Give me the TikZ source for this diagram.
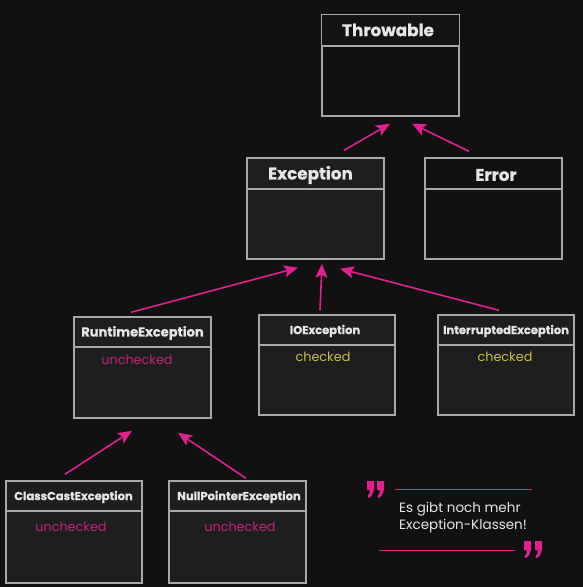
\documentclass[tikz,border=0pt]{standalone}
\usepackage{fontspec}
\setmainfont{Poppins}[BoldFeatures={FakeBold=0.6}]
\usetikzlibrary{arrows.meta,calc}
\definecolor{bg}{HTML}{111111}
\definecolor{boxline}{HTML}{A8A8A8}
\definecolor{hdA}{HTML}{1E1E1E}
\definecolor{hdB}{HTML}{131313}
\definecolor{mag}{HTML}{E0208F}
\definecolor{unch}{HTML}{C0237E}
\definecolor{chk}{HTML}{C8C040}
\definecolor{txt}{HTML}{E6E6E6}
\tikzset{
  box/.style={draw=boxline, line width=1.4pt, rectangle, inner sep=0pt},
  bigtitle/.style={text=txt, font=\fontsize{16.8}{19}\selectfont\bfseries, inner sep=0pt},
  smalltitle/.style={text=txt, font=\fontsize{11.5}{13}\selectfont\bfseries, inner sep=0pt},
  unchecked/.style={text=unch, font=\fontsize{12.8}{15}\selectfont, inner sep=0pt},
  checked/.style={text=chk, font=\fontsize{12.8}{15}\selectfont, inner sep=0pt},
  arr/.style={draw=mag, line width=1.6pt, -{Stealth[length=14pt,width=12pt,inset=3pt]}},
  quoteline/.style={draw=mag, line width=1pt},
  qmark/.style={fill=mag, draw=none},
  note/.style={text=txt, font=\fontsize{13.5}{17}\selectfont, align=left, inner sep=0pt, anchor=north west}
}
\newcommand{\qm}[2]{\fill[qmark] (#1,#2) -- ++(7,0) -- ++(0,9) -- ++(-2,5) -- ++(-3,3) -- ++(-1.5,-1.5) -- ++(2,-3.5) -- ++(0,-3) -- ++(-2.5,0) -- cycle;}
\begin{document}
\begin{tikzpicture}[x=1pt,y=-1pt]
\fill[bg] (0,0) rectangle (583,587);
\useasboundingbox (0,0) rectangle (583,587);
% Throwable
\node[box, fill=bg, minimum width=137pt, minimum height=101pt] (thr) at (390.5,65.5) {};
\fill[hdB] ($(thr.north west)+(0.7pt,-0.7pt)$) rectangle ($(thr.north east |- 0,46)+(-0.7pt,0)$);
\draw[boxline, line width=1.4pt] (thr.west |- 0,46) -- (thr.east |- 0,46);
\node[bigtitle] (thrT) at (388,30) {Throwable};
% Exception
\node[box, fill=hdA, minimum width=137pt, minimum height=101pt] (exc) at (315.5,208.5) {};
\draw[boxline, line width=1.4pt] (exc.west |- 0,189) -- (exc.east |- 0,189);
\node[bigtitle] (excT) at (310.5,175) {Exception};
% Error
\node[box, fill=bg, minimum width=137pt, minimum height=101pt] (err) at (493.5,208.5) {};
\draw[boxline, line width=1.4pt] (err.west |- 0,189) -- (err.east |- 0,189);
\node[bigtitle] (errT) at (496,175) {Error};
% RuntimeException
\node[box, fill=hdA, minimum width=137pt, minimum height=101pt] (rt) at (142.5,367.5) {};
\draw[boxline, line width=1.4pt] (rt.west |- 0,347) -- (rt.east |- 0,347);
\node[smalltitle, font=\fontsize{13}{15}\selectfont\bfseries] (rtT) at (142.5,333) {RuntimeException};
\node[unchecked] (rtU) at (137,360) {unchecked};
% IOException
\node[box, fill=hdA, minimum width=136pt, minimum height=100pt] (io) at (327,365) {};
\draw[boxline, line width=1.4pt] (io.west |- 0,345) -- (io.east |- 0,345);
\node[smalltitle] (ioT) at (325,331) {IOException};
\node[checked] (ioC) at (323,357) {checked};
% InterruptedException
\node[box, fill=hdA, minimum width=136pt, minimum height=100pt] (ie) at (506,365) {};
\draw[boxline, line width=1.4pt] (ie.west |- 0,345) -- (ie.east |- 0,345);
\node[smalltitle] (ieT) at (506,331) {InterruptedException};
\node[checked] (ieC) at (505,357) {checked};
% ClassCastException
\node[box, fill=hdA, minimum width=136pt, minimum height=102pt] (cc) at (74,532) {};
\draw[boxline, line width=1.4pt] (cc.west |- 0,511) -- (cc.east |- 0,511);
\node[smalltitle] (ccT) at (73.5,497) {ClassCastException};
\node[unchecked] (ccU) at (71,527) {unchecked};
% NullPointerException
\node[box, fill=hdA, minimum width=137pt, minimum height=102pt] (np) at (237.5,532) {};
\draw[boxline, line width=1.4pt] (np.west |- 0,511) -- (np.east |- 0,511);
\node[smalltitle] (npT) at (239,497) {NullPointerException};
\node[unchecked] (npU) at (240,527) {unchecked};
% arrows
\draw[arr] ([xshift=28.5pt,yshift=7pt]exc.north) -- ([xshift=-0.5pt,yshift=-7pt]thr.south);
\draw[arr] ([xshift=-24.5pt,yshift=6pt]err.north) -- ([xshift=21.5pt,yshift=-7pt]thr.south);
\draw[arr] ([xshift=-11.5pt,yshift=4pt]rt.north) -- ([xshift=-17.5pt,yshift=-8pt]exc.south);
\draw[arr] ([xshift=-7pt,yshift=4pt]io.north) -- ([xshift=6.5pt,yshift=-4pt]exc.south);
\draw[arr] ([xshift=-7pt,yshift=4pt]ie.north) -- ([xshift=24.5pt,yshift=-9pt]exc.south);
\draw[arr] ([xshift=-9pt,yshift=6pt]cc.north) -- ([xshift=-10.5pt,yshift=-12pt]rt.south);
\draw[arr] ([xshift=8.5pt,yshift=2pt]np.north) -- ([xshift=35.5pt,yshift=-14pt]rt.south);
% quote
\qm{367}{481}
\qm{377}{481}
\qm{524}{541}
\qm{535}{541}
\coordinate (ql1a) at (395,489);
\coordinate (ql1b) at (532,489);
\coordinate (ql2a) at (379,550);
\coordinate (ql2b) at (515,550);
\draw[quoteline] (ql1a) -- (ql1b);
\draw[quoteline] (ql2a) -- (ql2b);
\node[note] (noteT) at (399,502) {Es gibt noch mehr\\Exception-Klassen!};
\end{tikzpicture}
\end{document}
